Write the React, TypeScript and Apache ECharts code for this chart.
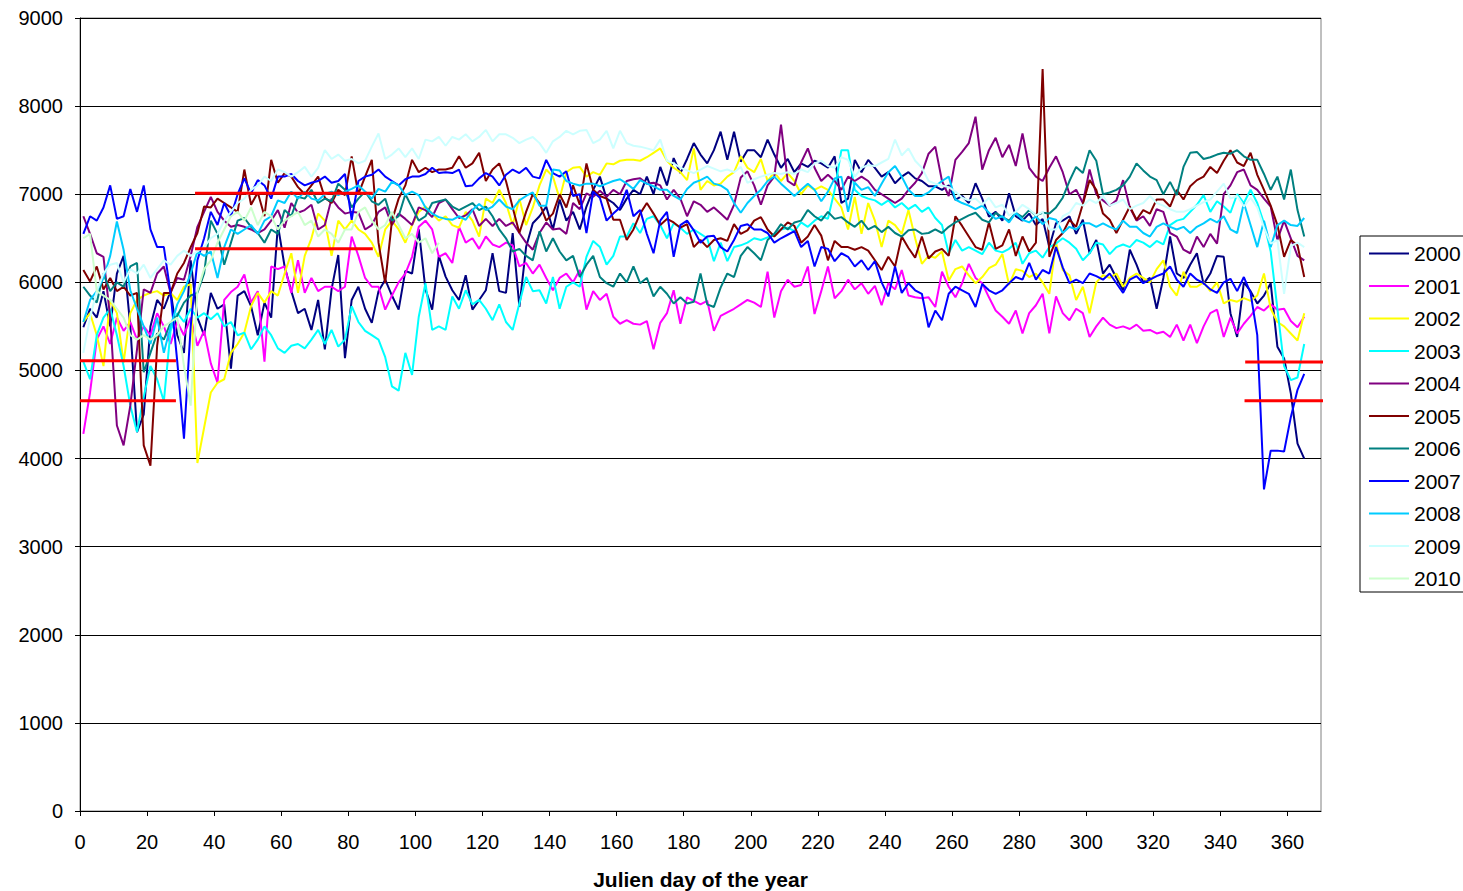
import React, { useEffect, useRef } from "react";
import * as echarts from "echarts";

// x positions: one reading every DAY_STEP days starting at FIRST_DAY
const FIRST_DAY = 1;
const DAY_STEP = 2;

const YEARS = ["2000", "2001", "2002", "2003", "2004", "2005", "2006", "2007", "2008", "2009", "2010"];
const COLORS = ["#000080", "#FF00FF", "#FFFF00", "#00FFFF", "#800080", "#800000", "#008080", "#0000FF", "#00CCFF", "#CCFFFF", "#CCFFCC"];

const S2000 = [
  5490, 5700, 5600, 5900, 5500, 6100, 6300, 5500, 4300, 4500,
  5500, 5800, 5700, 5900, 5400, 5200, 6250, 5600, 5400, 5880,
  5700, 5750, 5020, 5850, 5900, 5730, 5400, 5770, 5600, 6650,
  6180, 5900, 5650, 5700, 5460, 5800, 5240, 5920, 6310, 5140,
  5800, 5950, 5700, 5540, 5900, 6030, 5850, 5690, 6130, 6100,
  6600, 5920, 5690, 6300, 6065, 5910, 5800, 6080, 5690, 5800,
  5910, 6330, 5900, 5880, 6560, 5720, 6400, 6670, 6750, 6860,
  6600, 6940, 6700, 6800, 6600, 6860, 7050, 7200, 6950, 6900,
  6820, 6950, 7050, 7000, 7200, 7000, 7310, 7100, 7410, 7240,
  7400, 7580, 7450, 7350, 7500, 7710, 7390, 7710, 7370, 7500,
  7500, 7420, 7620, 7450, 7300, 7400, 7250, 7350, 7310, 7380,
  7350, 7300, 7430, 6900, 6950, 7390, 7250, 7390, 7300, 7200,
  7250, 7125, 7200, 7250, 7180, 7150, 7090, 7090, 7050, 7100,
  6935, 6980, 6900, 7125, 6950, 6745, 6800, 6700, 7010, 6750,
  6700, 6780, 6650, 6720, 6400, 6670, 6700, 6750, 6550, 6710,
  6330, 6480, 6100, 6200, 6050, 5910, 6370, 6200, 6000, 6050,
  5700, 6050, 6520, 6100, 6050, 6200, 6330, 5980, 6100, 6300,
  6290, 5650, 5380, 6000, 5900, 5760, 5850, 5990, 5270, 5135,
  4740, 4170, 4000,
];

const S2001 = [
  4280, 4750, 5350, 5500, 5300, 5600, 5450, 5550, 5350, 5500,
  5400, 5650, 5500, 5300, 5550, 5400, 5600, 5280, 5450, 5080,
  4860, 5800, 5890, 5950, 6090, 5770, 5900, 5100, 6180, 6150,
  6180, 5880, 6250, 5880, 6050, 5900, 5950, 5950, 5900, 5950,
  6520, 6300, 6050, 5950, 5950, 5690, 5850, 6000, 6100, 6290,
  6630, 6700, 6600, 6290, 6330, 6220, 6630, 6450, 6500, 6380,
  6520, 6430, 6400, 6450, 6420, 6180, 6220, 6100, 6200, 6050,
  5910, 6050, 6100, 6000, 6140, 5690, 5900, 5800, 5870, 5610,
  5530, 5570, 5530, 5520, 5560, 5240, 5540, 5650, 5910, 5530,
  5830, 5790, 5750, 5790, 5450, 5620, 5660, 5700, 5750, 5800,
  5770, 5720, 6120, 5600, 5900, 6030, 5950, 5970, 6180, 5640,
  5900, 6180, 5820, 5900, 6030, 5920, 5990, 5870, 5960, 5740,
  5990, 5920, 6140, 5850, 5830, 5820, 5830, 5720, 6120, 5950,
  5830, 5990, 6210, 6050, 5990, 5830, 5680, 5610, 5530, 5680,
  5420, 5650, 5740, 5870, 5420, 5840, 5650, 5570, 5700, 5650,
  5380, 5500, 5600, 5520, 5480, 5500, 5470, 5520, 5450, 5460,
  5420, 5440, 5380, 5520, 5340, 5520, 5310, 5500, 5650, 5690,
  5380, 5600, 5420, 5530, 5620, 5720, 5680, 5750, 5690, 5700,
  5560, 5490, 5610,
];

const S2002 = [
  5550, 5650, 5400, 5050, 5800, 5650, 5090, 5650, 5800, 5850,
  5880, 5900, 5850, 5880, 5800, 5950, 5980, 3950, 4350, 4750,
  4860, 4900, 5200, 5300, 5430, 5730, 5880, 5770, 5900, 5850,
  6100, 6330, 5880, 6300, 6500, 6780, 6700, 6300, 6700, 6600,
  6700, 6600, 6550, 6450, 6290, 6600, 6700, 6600, 6450, 6650,
  6800, 6860, 6780, 6700, 6750, 6650, 6620, 6800, 6700, 6520,
  6950, 6900, 7050, 6900, 6650, 6950, 6650, 6850, 7100, 7280,
  7200, 6950, 7250, 7300, 7310, 7200, 7250, 7220, 7350, 7340,
  7380, 7390, 7390, 7380, 7420, 7470, 7520, 7380, 7300, 7250,
  7160, 7520, 7050, 7150, 7100, 7120, 7200, 7250, 7430, 7300,
  7250, 7400, 7150, 7250, 7150, 7240, 7150, 7000, 7100, 7050,
  7090, 7050, 6950, 6850, 6600, 6970, 6550, 6900, 6700, 6400,
  6700, 6650, 6550, 6820, 6500, 6210, 6300, 6280, 6350, 6020,
  6150, 6180, 6080, 5990, 6060, 6160, 6200, 6320, 5970, 6150,
  6130, 6060, 6100, 6000, 5870, 6450, 6140, 6080, 5800, 5950,
  5650, 6000, 6080, 6050, 6100, 5950, 6050, 6100, 6050, 6000,
  6150, 6250, 5950, 5850, 6120, 5950, 5950, 6000, 5900, 6000,
  5760, 5800, 5780, 5820, 5790, 5850, 6100, 5700, 5550, 5500,
  5420, 5340, 5650,
];

const S2003 = [
  5100, 4900, 5400, 5600, 5700, 5400, 5050, 4600, 4300, 4700,
  5050, 4900, 4650, 5450, 5650, 5550, 5700, 5600, 5650, 5580,
  5650, 5500, 5550, 5400, 5430, 5240, 5350, 5500, 5400, 5250,
  5200, 5280, 5300, 5250, 5350, 5460, 5300, 5460, 5270, 5350,
  5730, 5550, 5450, 5400, 5350, 5150, 4820, 4770, 5200, 4950,
  5610, 5990, 5460, 5500, 5460, 5840, 5700, 5910, 5750, 5800,
  5700, 5570, 5750, 5550, 5460, 5760, 6060, 5900, 5910, 5760,
  6060, 5700, 5950, 6000, 5950, 6290, 6470, 6400, 6200, 6300,
  6520, 6520, 6670, 6560, 6720, 6750, 6650, 6500, 6670, 6620,
  6550, 6600, 6550, 6500, 6240, 6450, 6240, 6400, 6420, 6450,
  6500, 6480, 6510, 6550, 6600, 6620, 6580, 6680, 6630, 6700,
  6750, 6720, 7050, 7500, 7500, 7050, 6980, 6950, 6930, 6880,
  6930, 6850, 6900, 6830, 6880, 6800, 6850, 6730, 6650, 6330,
  6480, 6360, 6400, 6360, 6320, 6450, 6360, 6340, 6380, 6450,
  6210, 6330, 6360, 6280, 6400, 6440, 6500, 6450, 6380, 6250,
  6330, 6450, 6430, 6320, 6400, 6430, 6400, 6480, 6450, 6400,
  6470, 6430, 6650, 6700, 6720, 6800, 6880, 6990, 6800, 6920,
  6860, 6790, 7000, 6900, 7050, 6900, 6670, 6350, 5700, 5050,
  4890, 4920, 5300,
];

const S2004 = [
  6750, 6550, 6330, 6290, 5600, 4375, 4150, 4600, 5240, 5920,
  5880, 6100, 6180, 5880, 6050, 6030, 6300, 6630, 6800, 6970,
  6800, 6700, 6630, 6650, 6630, 6600, 6560, 6600, 6700, 6820,
  6620, 6900, 6790, 6820, 6880, 6600, 6650, 6950, 6850, 6780,
  6800, 6790, 6600, 6650, 6800, 6850, 6650, 6780, 6720, 6650,
  6850, 6820, 6740, 6900, 6940, 6830, 6730, 6760, 6830, 6640,
  6720, 6640, 6720, 6640, 6680, 6560, 6450, 6370, 6560, 6680,
  6600, 6610, 6550, 6900, 6830, 7010, 6970, 7040, 6970, 7050,
  7000, 7150, 7170, 7180, 7120, 7130, 7100, 6940, 7050, 6950,
  6750, 6920, 6880, 6800, 6850, 6780, 6710, 6880, 7190, 7260,
  7100, 6880, 7100, 7200, 7790, 7150, 7100, 7360, 7520, 7300,
  7150, 7220, 7150, 7050, 7200, 7150, 7200, 7150, 7050, 7000,
  6950, 6900, 6950, 7050, 7130, 7240, 7460, 7540, 7150, 6980,
  7390, 7480, 7580, 7880, 7280, 7500, 7640, 7420, 7560, 7320,
  7690, 7300, 7200, 7150, 7300, 7430, 7250, 7000, 7050, 6900,
  7280, 7000, 6930, 6870, 6930, 7160, 6850, 6700, 6750, 6640,
  6830, 6800, 6560, 6520, 6370, 6330, 6520, 6400, 6550, 6440,
  7000, 7100, 7250, 7280, 7100, 7050, 6950, 6860, 6480, 6700,
  6500, 6300, 6250,
];

const S2005 = [
  6140, 6010, 6180, 5920, 6050, 5900, 5950, 5850, 5880, 4150,
  3920, 5280, 5880, 5880, 6100, 6220, 6400, 6560, 6860, 6850,
  6950, 6900, 6850, 6800, 7280, 6880, 7020, 6750, 7390, 7130,
  7240, 7200, 7080, 7000, 7100, 7200, 6960, 6900, 7050, 6990,
  7430, 7000, 7200, 7390, 6450, 5990, 6700, 6950, 7100, 7390,
  7250, 7300, 7250, 7280, 7280, 7300, 7430, 7300, 7350, 7470,
  7150, 7280, 7350, 7150, 6850, 6560, 6800, 7000, 6900, 6700,
  6780, 7000, 6850, 7100, 6880, 7350, 7050, 6980, 6950, 6710,
  6710, 6480, 6600, 6780, 6900, 6780, 6650, 6720, 6680, 6620,
  6660, 6400, 6480, 6400, 6480, 6500, 6470, 6660, 6550, 6590,
  6700, 6740, 6600, 6520, 6600, 6680, 6640, 6450, 6520, 6650,
  6530, 6250, 6470, 6400, 6400, 6370, 6400, 6360, 6250, 6140,
  6290, 6180, 6520, 6390, 6280, 6520, 6270, 6350, 6380, 6300,
  6750, 6640, 6520, 6400, 6370, 6680, 6380, 6420, 6600, 6300,
  6520, 6350, 6450, 8420, 6290, 6480, 6560, 6710, 6630, 6890,
  7160, 7050, 6780, 6710, 6560, 6710, 6860, 6710, 6820, 6780,
  6940, 6940, 6860, 7050, 6940, 7090, 7160, 7200, 7310, 7240,
  7380, 7500, 7360, 7320, 7470, 7220, 7050, 6870, 6650, 6290,
  6480, 6420, 6060,
];

const S2006 = [
  5950, 5850, 5770, 6100, 5900, 6000, 5950, 6180, 6220, 4980,
  5200, 5420, 5350, 5540, 5620, 5770, 5850, 5880, 6100, 6700,
  6550, 6200, 6450, 6700, 6730, 6630, 6560, 6450, 6600, 6550,
  6820, 6750, 6970, 6950, 7050, 6900, 6950, 6920, 7120, 7050,
  6850, 6950, 7030, 6920, 6880, 6950, 6700, 6750, 7000, 6850,
  6700, 6750, 6900, 6920, 6940, 6860, 6820, 6860, 6900, 6820,
  6860, 6750, 6600, 6500, 6350, 6380, 6300, 6250, 6580, 6350,
  6500, 6350, 6250, 6300, 6060, 6200, 6300, 6060, 5990, 5950,
  6100, 6000, 6180, 5990, 6050, 5840, 5950, 5870, 5760, 5830,
  5760, 5780, 6100, 5750, 5720, 5940, 6100, 6060, 6300, 6400,
  6330, 6250, 6480, 6550, 6660, 6600, 6680, 6700, 6820, 6750,
  6700, 6800, 6720, 6740, 6680, 6630, 6700, 6600, 6640, 6570,
  6630, 6560, 6520, 6590, 6600, 6550, 6560, 6600, 6560, 6630,
  6680, 6720, 6760, 6790, 6710, 6680, 6790, 6740, 6700, 6790,
  6740, 6820, 6760, 6790, 6780, 6850, 6960, 7150, 7310, 7240,
  7500, 7380, 7000, 7020, 7050, 7100, 7200, 7350, 7270, 7200,
  7160, 7000, 7140, 6990, 7310, 7470, 7480, 7400, 7420, 7450,
  7470, 7460, 7500, 7430, 7390, 7390, 7230, 7050, 7200, 6940,
  7280, 6820, 6520,
];

const S2007 = [
  6550, 6750, 6700, 6850, 7100, 6720, 6750, 7060, 6800, 7100,
  6600, 6400, 6400, 5880, 5100, 4225, 5500, 6250, 6500, 6800,
  6650, 6900, 6750, 7000, 7180, 7010, 7160, 7100, 6950, 7200,
  7200, 7230, 7150, 7100, 7130, 7150, 7200, 7130, 7150, 7230,
  6710, 7150, 7200, 7220, 7280, 7200, 7150, 7100, 7170, 7200,
  7200, 7230, 7300, 7240, 7250, 7240, 7280, 7090, 7100, 7180,
  7240, 7200, 7100, 7220, 7280, 7240, 7300, 7200, 7180, 7390,
  7240, 7200, 7260, 6980, 7000, 6560, 7030, 6960, 6700, 6780,
  6850, 7050, 6750, 6820, 6550, 6330, 6700, 6800, 6290, 6650,
  6700, 6590, 6450, 6520, 6530, 6400, 6350, 6480, 6640, 6660,
  6600, 6600, 6560, 6450, 6500, 6540, 6580, 6400, 6470, 6180,
  6400, 6380, 6240, 6330, 6290, 6180, 6250, 6140, 6240, 6000,
  5840, 6180, 5880, 5990, 5910, 5870, 5490, 5680, 5570, 5870,
  5950, 5910, 5870, 5720, 5980, 5910, 5870, 5910, 5990, 6060,
  6030, 6220, 6030, 6140, 6100, 6400, 6170, 5990, 6030, 5990,
  6100, 6070, 6030, 6100, 5990, 5880, 6030, 6070, 5990, 6030,
  6070, 6100, 6180, 6030, 5950, 6100, 6030, 5990, 5920, 5880,
  6000, 6040, 5900, 6060, 5880, 5400, 3650, 4090, 4090, 4080,
  4470, 4780, 4960,
];

const S2008 = [
  5550, 5800, 5900, 6050, 6300, 6690, 6370, 5910, 5700, 5500,
  5300, 5600, 5200, 5500, 5750, 5900, 6100, 6350, 6300, 6350,
  6050, 6400, 6600, 6550, 6600, 6650, 6550, 6700, 6750, 6930,
  6900, 7030, 6950, 7030, 6950, 6930, 7000, 7030, 6990, 7030,
  7060, 7100, 7030, 6950, 7060, 7030, 7140, 7100, 6990, 7030,
  6990, 6850, 6780, 6740, 6720, 6710, 6750, 6710, 6820, 6890,
  6820, 6860, 6940, 6860, 6830, 6930, 6980, 7020, 6870, 6870,
  7280, 7270, 7150, 7120, 7100, 7120, 7120, 7090, 7120, 7150,
  7170, 7120, 7060, 7160, 7120, 7090, 7050, 7050, 6980, 6940,
  7060, 7130, 7160, 7200, 7120, 7100, 7050, 6900, 6790, 6900,
  6980, 7050, 7150, 7200, 7120, 7050, 6980, 7050, 7120, 7050,
  6920, 7030, 7180, 7200, 6800, 7130, 7050, 7080, 6980, 7120,
  7250, 7320, 7200, 7050, 6980, 6980, 7020, 7090, 7150, 7200,
  6940, 6900, 6870, 6830, 6870, 6790, 6720, 6750, 6680, 6790,
  6710, 6680, 6750, 6660, 6730, 6710, 6560, 6630, 6600, 6670,
  6670, 6630, 6670, 6630, 6600, 6700, 6630, 6630, 6560, 6520,
  6630, 6670, 6630, 6600, 6630, 6560, 6630, 6670, 6720, 6680,
  6750, 6600, 6560, 6900, 6650, 6400, 6700, 6400, 6650, 6700,
  6650, 6640, 6730,
];

const S2009 = [
  5200, 5600, 5900, 6100, 6200, 6220, 6000, 6150, 6100, 6200,
  6050, 6150, 6250, 6200, 6300, 6360, 6300, 6350, 6400, 6500,
  6550, 6700, 6800, 6900, 6950, 7050, 7100, 7200, 7150, 7280,
  7250, 7200, 7250, 7310, 7200, 7300, 7500, 7400, 7450, 7380,
  7400, 7350, 7380, 7540, 7690, 7400, 7450, 7520, 7420, 7520,
  7400, 7620, 7600, 7650, 7550, 7650, 7620, 7680, 7600, 7650,
  7730, 7600, 7680, 7680, 7640, 7580, 7620, 7650, 7580, 7470,
  7600, 7650, 7720, 7680, 7720, 7730, 7580, 7620, 7720, 7520,
  7720, 7580, 7550, 7540, 7520, 7500, 7620, 7380, 7350, 7300,
  7270, 7240, 7280, 7320, 7290, 7260, 7280, 7250, 7310, 7130,
  7170, 7200, 7220, 7240, 7230, 7250, 7230, 7280, 7250, 7350,
  7380, 7320, 7300, 7420, 7390, 7200, 7300, 7330, 7320, 7360,
  7400, 7620, 7440, 7520, 7380, 7300, 7150, 7120, 7100, 7080,
  7030, 6960, 6930, 6950, 6880, 6960, 6850, 6880, 6760, 6800,
  6880, 6830, 6760, 6800, 6600, 6600, 6750, 6790, 6900, 6870,
  6940, 6900, 6980, 6870, 6900, 6940, 6830, 6870, 6900, 6980,
  6900, 6870, 6830, 6800, 6800, 6830, 6870, 6910, 6940, 7030,
  7120, 6950, 6980, 6860, 6960, 6850, 6620, 6440, 6480, 5870,
  6410, 6450, 6400,
];

const S2010 = [
  6500, 6550, 5900, 5850, 5800, 5700, 5600, 5400, 5350, 5400,
  5350, 5400, 5500, 5550, 5600, 5050, 4600, 5900, 6150, 6250,
  6450, 6600, 6750, 6800, 6700, 6850, 6650, 6800, 6750, 6600,
  6700, 6750, 6800, 6650, 6700, 6520, 6600, 6550, 6450, 6600,
  6600, 6800, 6850, 6700, 6600, 6650, 6800, 6650, 6500, 6550,
  6450, 6500, 6330, 6450,
];

const SERIES_VALUES = [S2000, S2001, S2002, S2003, S2004, S2005, S2006, S2007, S2008, S2009, S2010];

// red reference segments: [startDay, endDay, level]
const RED_SEGMENTS = [
  [0, 28.6, 5110],
  [0, 28.6, 4655],
  [34.3, 87.3, 7010],
  [34.3, 87.3, 6380],
  [347.4, 373.4, 5095],
  [347.2, 373.2, 4655],
];

const X_MIN = 0;
const X_MAX = 370;
const X_STEP = 20;
const Y_MIN = 0;
const Y_MAX = 9000;
const Y_STEP = 1000;

const FONT = '"Liberation Sans", Arial, Helvetica, sans-serif';

export default function App() {
  const ref = useRef<HTMLDivElement | null>(null);

  useEffect(() => {
    if (!ref.current) return;
    const chart = echarts.init(ref.current, undefined, { renderer: "svg" });

    const lineSeries = YEARS.map((name, k) => ({
      type: "line",
      name,
      data: SERIES_VALUES[k].map((v, i) => [FIRST_DAY + DAY_STEP * i, v]),
      showSymbol: false,
      symbol: "none",
      silent: true,
      lineStyle: { width: 2, color: COLORS[k] },
      itemStyle: { color: COLORS[k] },
      z: 2,
    }));

    const redSeries = RED_SEGMENTS.map((s) => ({
      type: "line",
      data: [
        [s[0], s[2]],
        [s[1], s[2]],
      ],
      showSymbol: false,
      symbol: "none",
      silent: true,
      clip: false,
      lineStyle: { width: 3, color: "#FF0000" },
      itemStyle: { color: "#FF0000" },
      z: 5,
    }));

    chart.setOption({
      animation: false,
      backgroundColor: "#ffffff",
      grid: {
        left: 80,
        top: 18,
        right: 142,
        bottom: 80,
        show: true,
        borderColor: "#808080",
        borderWidth: 1,
        containLabel: false,
        outerBoundsMode: "none",
      },
      legend: {
        orient: "vertical",
        left: 1360,
        top: 236,
        data: YEARS,
        icon: "rect",
        itemWidth: 40,
        itemHeight: 2,
        itemGap: 11.5,
        padding: [7, 40, 3, 9],
        borderColor: "#000000",
        borderWidth: 1,
        selectedMode: false,
        textStyle: { fontSize: 21, fontFamily: FONT, color: "#000", lineHeight: 20 },
      },
      xAxis: {
        type: "value",
        min: X_MIN,
        max: X_MAX,
        interval: X_STEP,
        name: "Julien day of the year",
        nameLocation: "middle",
        nameGap: 58,
        nameTextStyle: { fontSize: 21, fontWeight: "bold", fontFamily: FONT, color: "#000" },
        axisLine: { show: true, lineStyle: { color: "#000", width: 1 } },
        axisTick: { show: true, inside: false, length: 5, lineStyle: { color: "#000" } },
        axisLabel: {
          fontSize: 20,
          fontFamily: FONT,
          color: "#000",
          margin: 21,
          showMaxLabel: false,
          formatter: (v: number) => (v % X_STEP === 0 && v <= 360 ? String(v) : ""),
        },
        splitLine: { show: false },
      },
      yAxis: {
        type: "value",
        min: Y_MIN,
        max: Y_MAX,
        interval: Y_STEP,
        axisLine: { show: true, lineStyle: { color: "#000", width: 1 } },
        axisTick: { show: true, inside: false, length: 5, lineStyle: { color: "#000" } },
        axisLabel: {
          fontSize: 20,
          fontFamily: FONT,
          color: "#000",
          margin: 17,
          formatter: (v: number) => String(v),
        },
        splitLine: { show: true, lineStyle: { color: "#000", width: 1 } },
      },
      series: [...lineSeries, ...redSeries],
    });

    return () => {
      chart.dispose();
    };
  }, []);

  return (
    <div
      ref={ref}
      style={{ position: "fixed", left: 0, top: 0, width: 1463, height: 891, background: "#fff" }}
    />
  );
}
